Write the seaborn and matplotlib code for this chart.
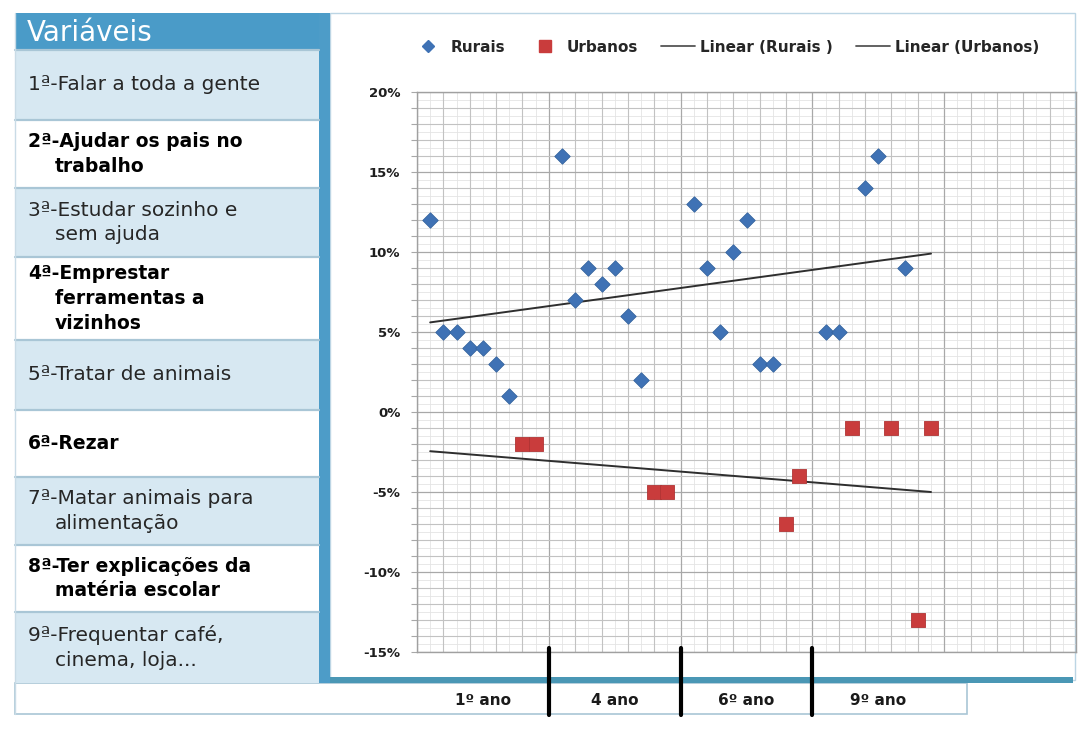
import numpy as np
import matplotlib
matplotlib.use("Agg")
import matplotlib.pyplot as plt
from matplotlib.patches import Rectangle
from matplotlib.lines import Line2D
from matplotlib.ticker import MultipleLocator, FuncFormatter
import seaborn as sns

# values (x = position on the grid, y in %)
rurais_x = [0.5, 1, 1.5, 2, 2.5, 3, 3.5, 5.5, 6, 6.5, 7, 7.5, 8, 8.5,
            10.5, 11, 11.5, 12, 12.5, 13, 13.5, 15.5, 16, 17, 17.5, 18.5]
rurais_y = [12, 5, 5, 4, 4, 3, 1, 16, 7, 9, 8, 9, 6, 2,
            13, 9, 5, 10, 12, 3, 3, 5, 5, 14, 16, 9]
urbanos_x = [4, 4.5, 9, 9.5, 14, 14.5, 16.5, 18, 19, 19.5]
urbanos_y = [-2, -2, -5, -5, -7, -4, -1, -1, -13, -1]

# trend lines as drawn in the chart
trend_x = [0.5, 19.5]
rurais_trend = [5.6, 9.9]
urbanos_trend = [-2.45, -5.0]

anos = ["1º ano", "4 ano", "6º ano", "9º ano"]
ano_centros = [2.5, 7.5, 12.5, 17.5]
ano_limites = [5, 10, 15]

variaveis = [
    "1ª-Falar a toda a gente",
    "2ª-Ajudar os pais no\ntrabalho",
    "3ª-Estudar sozinho e\nsem ajuda",
    "4ª-Emprestar\nferramentas a\nvizinhos",
    "5ª-Tratar de animais",
    "6ª-Rezar",
    "7ª-Matar animais para\nalimentação",
    "8ª-Ter explicações da\nmatéria escolar",
    "9ª-Frequentar café,\ncinema, loja...",
]
negrito = [False, True, False, True, False, True, False, True, False]

azul = "#3f72b5"
vermelho = "#c93c3c"

sns.set_style("white")
plt.rcParams["font.family"] = ["DejaVu Sans"]

W, H = 1092, 751
fig = plt.figure(figsize=(W / 100, H / 100), dpi=100)

# background drawn in pixel coordinates
bg = fig.add_axes([0, 0, 1, 1])
bg.set_xlim(0, W)
bg.set_ylim(H, 0)
bg.axis("off")

bg.add_patch(Rectangle((15, 683), 952, 31, fc="white", ec="#a9c6d6", lw=1.2))
bg.add_patch(Rectangle((330, 13), 745, 667, fc="white", ec="#bcd5e4", lw=1))
bg.add_patch(Rectangle((319, 13), 11, 670, fc="#4d9cc8", ec="none"))
bg.add_patch(Rectangle((330, 677), 743, 6, fc="#4a97b5", ec="none"))

# table of variables
bg.add_patch(Rectangle((15, 13), 304, 37, fc="#4a9bc8", ec="none"))
bg.text(27, 33, "Variáveis", color="white", fontsize=20, va="center", ha="left")

linhas_y = [50, 120, 188, 257, 340, 410, 477, 545, 612, 683]
for i, txt in enumerate(variaveis):
    y0, y1 = linhas_y[i], linhas_y[i + 1]
    cor = "#d7e8f2" if i % 2 == 0 else "white"
    bg.add_patch(Rectangle((15, y0), 304, y1 - y0, fc=cor, ec="none"))
    bg.plot([15, 319], [y0, y0], color="#a9c6d6", lw=1.6)
    partes = txt.split("\n")
    meio = (y0 + y1) / 2
    for j, parte in enumerate(partes):
        yy = meio + (j - (len(partes) - 1) / 2) * 25
        xx = 28 if j == 0 else 55
        if negrito[i]:
            bg.text(xx, yy, parte, fontsize=13.5, fontweight="bold",
                    color="black", va="center", ha="left")
        else:
            bg.text(xx, yy, parte, fontsize=14.5, color="#262626",
                    va="center", ha="left")
bg.plot([15, 15], [13, 714], color="#c9dbe6", lw=1)

# main chart
ax = fig.add_axes([417 / W, 1 - 652 / H, (1076 - 417) / W, (652 - 92) / H])
ax.set_zorder(2)
ax.patch.set_alpha(0)

for v in np.arange(-15, 20, 0.5):
    if v % 1 != 0:
        ax.axhline(v, color="#e4e4e4", lw=0.6, zorder=0.5)
for v in np.arange(0, 25, 0.5):
    if v % 1 != 0:
        ax.axvline(v, color="#e4e4e4", lw=0.6, zorder=0.5)

sns.lineplot(x=trend_x, y=rurais_trend, color="#2e2e2e", lw=1.4, ax=ax, zorder=3)
sns.lineplot(x=trend_x, y=urbanos_trend, color="#2e2e2e", lw=1.4, ax=ax, zorder=3)
sns.scatterplot(x=rurais_x, y=rurais_y, marker="D", s=62, color=azul,
                edgecolor="#35649f", linewidth=0.6, ax=ax, zorder=4)
sns.scatterplot(x=urbanos_x, y=urbanos_y, marker="s", s=105, color=vermelho,
                edgecolor="#b03434", linewidth=0.6, ax=ax, zorder=4)

ax.set_xlim(0, 25)
ax.set_ylim(-15, 20)
ax.xaxis.set_major_locator(MultipleLocator(5))
ax.xaxis.set_minor_locator(MultipleLocator(1))
ax.yaxis.set_major_locator(MultipleLocator(5))
ax.yaxis.set_minor_locator(MultipleLocator(1))
ax.yaxis.set_major_formatter(FuncFormatter(lambda v, p: f"{v:.0f}%"))
ax.grid(which="major", color="#a8a8a8", lw=0.9)
ax.grid(which="minor", color="#c2c2c2", lw=0.8)
ax.set_axisbelow(True)
ax.tick_params(axis="x", which="both", length=0, labelbottom=False)
ax.tick_params(axis="y", which="both", left=True, length=4, color="#a8a8a8",
               width=0.8, pad=8)
ax.tick_params(axis="y", which="major", labelsize=9.5, labelcolor="#1e1e1e")
for lab in ax.get_yticklabels():
    lab.set_fontweight("bold")
for s in ax.spines.values():
    s.set_color("#a0a0a0")
    s.set_linewidth(1)
ax.set_xlabel("")
ax.set_ylabel("")

# school year labels under the grid
tr = ax.get_xaxis_transform()
for c, lab in zip(ano_centros, anos):
    ax.text(c, -0.086, lab, transform=tr, ha="center", va="center",
            fontsize=11, fontweight="bold", color="#1a1a1a")
for b in ano_limites:
    ax.plot([b, b], [0.007, -0.113], transform=tr, color="black", lw=3,
            clip_on=False, zorder=5)

handles = [
    Line2D([], [], ls="none", marker="D", ms=6.5, color=azul),
    Line2D([], [], ls="none", marker="s", ms=8.5, color=vermelho),
    Line2D([], [], color="#555555", lw=1.3),
    Line2D([], [], color="#555555", lw=1.3),
]
labels = ["Rurais", "Urbanos", "Linear (Rurais )", "Linear (Urbanos)"]
ax.legend(handles, labels, ncol=4, loc="center", bbox_to_anchor=(0.468, 1.08),
          frameon=False, prop={"weight": "bold", "size": 11},
          handlelength=2.2, handletextpad=0.35, columnspacing=1.5)

fig.savefig("out.png", dpi=100)
